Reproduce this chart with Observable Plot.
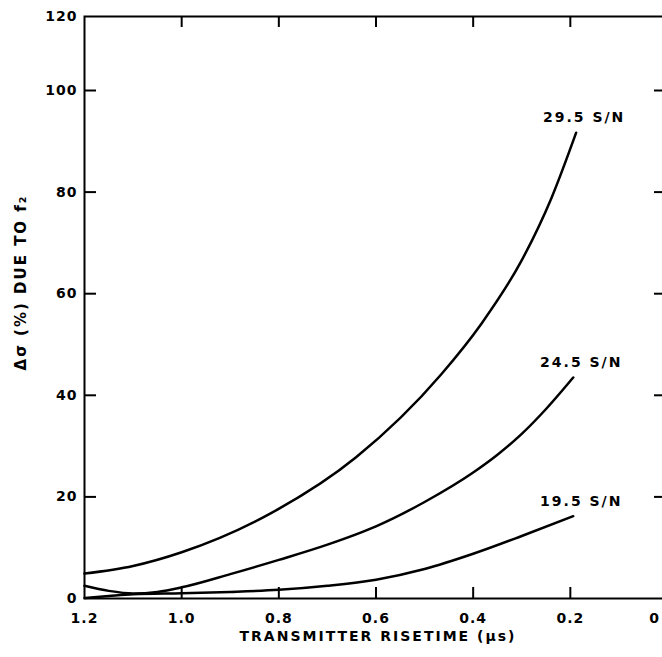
<!DOCTYPE html>
<html>
<head>
<meta charset="utf-8">
<script src="https://cdn.jsdelivr.net/npm/d3@7"></script>
<script src="https://cdn.jsdelivr.net/npm/@observablehq/plot@0.6"></script>
<style>
  html, body { margin: 0; padding: 0; background: #fff; overflow: hidden; }
  #chart svg { max-width: none !important; }
  #chart svg text { letter-spacing: 1px; }
  #chart svg text.wide, #chart svg g.wide text { letter-spacing: 2px; }
</style>
</head>
<body>
<div id="chart"></div>
<script>
// Series
const x295 = [1.2, 1.1, 1.0, 0.816, 0.641, 0.466, 0.383, 0.301, 0.239, 0.188];
const y295 = [4.9, 6.4, 9.1, 16.8, 27.8, 44.1, 54.1, 66.4, 78.8, 91.7];

const x245 = [1.2, 1.15, 1.1, 1.05, 1.0, 0.9, 0.8, 0.7, 0.6, 0.5, 0.4, 0.35, 0.3, 0.25, 0.194];
const y245 = [2.5, 1.5, 1.0, 1.3, 2.2, 4.8, 7.6, 10.6, 14.2, 19.0, 24.8, 28.3, 32.4, 37.3, 43.5];

const x195 = [1.2, 1.15, 1.1, 1.0, 0.9, 0.8, 0.7, 0.6, 0.5, 0.4, 0.3, 0.194];
const y195 = [0.1, 0.5, 0.85, 1.05, 1.3, 1.7, 2.5, 3.7, 5.8, 8.8, 12.3, 16.2];

const seriesNames = ["29.5 S/N", "24.5 S/N", "19.5 S/N"];

const xTickValues = [1.2, 1.0, 0.8, 0.6, 0.4, 0.2];
const xTickLabels = ["1.2", "1.0", "0.8", "0.6", "0.4", "0.2"];
const xEdgeTick = [0];
const xEdgeLabel = ["0"];
const xInnerTicks = [1.0, 0.8, 0.6, 0.4, 0.2];
const yTickValues = [0, 20, 40, 60, 80, 100, 120];
const yInnerTicks = [20, 40, 60, 80, 100];

const xTitle = "TRANSMITTER RISETIME (μs)";
const yTitle = "Δσ (%) DUE TO f₂";

// Build tidy table
const rows = [];
[[x295, y295], [x245, y245], [x195, y195]].forEach(([xs, ys], i) => {
  xs.forEach((x, j) => rows.push({series: seriesNames[i], x, y: ys[j]}));
});
const ends = seriesNames.map(s => rows.filter(r => r.series === s).slice(-1)[0]);

const W = 700, H = 657;
const mL = 84, mR = 33, mT = 16, mB = 59;
const plotW = W - mL - mR, plotH = H - mT - mB;

const chart = Plot.plot({
  width: W,
  height: H,
  marginLeft: mL,
  marginRight: mR,
  marginTop: mT,
  marginBottom: mB,
  style: {fontFamily: "DejaVu Sans, sans-serif", fontSize: "14px", background: "white", color: "black"},
  x: {type: "linear", domain: [1.2, 0], range: [mL, W - mR]},
  y: {type: "linear", domain: [0, 100, 120], range: [H - mB, 90, mT]},
  marks: [
    Plot.frame({stroke: "black", strokeWidth: 2}),
    // inward ticks
    Plot.tickY(yInnerTicks, {y: d => d, stroke: "black", strokeWidth: 2, insetRight: plotW - 12}),
    Plot.tickY(yInnerTicks, {y: d => d, stroke: "black", strokeWidth: 2, insetLeft: plotW - 13}),
    Plot.tickX(xInnerTicks, {x: d => d, stroke: "black", strokeWidth: 2, insetTop: plotH - 11}),
    Plot.tickX(xInnerTicks, {x: d => d, stroke: "black", strokeWidth: 2, insetBottom: plotH - 11}),
    // tick labels
    Plot.axisX({ticks: xTickValues, tickSize: 0, tickPadding: 15, label: null,
      tickFormat: d => xTickLabels[xTickValues.indexOf(d)], fontSize: 14, fontWeight: 600}),
    Plot.text(xEdgeTick, {x: d => d, text: (d, i) => xEdgeLabel[i], frameAnchor: "bottom", lineAnchor: "top",
      dy: 15, dx: -13, fontSize: 14, fontWeight: 600, fill: "black"}),
    Plot.axisY({ticks: yTickValues, tickSize: 0, tickPadding: 7, label: null,
      tickFormat: d => String(d), fontSize: 14, fontWeight: 600}),
    // curves
    Plot.line(rows, {x: "x", y: "y", z: "series", stroke: "black", strokeWidth: 2.5, curve: "monotone-x"}),
    // curve labels
    Plot.text(ends, {x: "x", y: "y", text: "series", dx: 8, dy: -15, fontSize: 14, fontWeight: 600,
      fill: "black", className: "wide"}),
    // axis titles
    Plot.text([xTitle], {frameAnchor: "bottom", textAnchor: "middle", dx: 2, dy: 42, fontSize: 14,
      fontWeight: 600, fill: "black", className: "wide"}),
    Plot.text([yTitle], {frameAnchor: "left", textAnchor: "middle", dx: -63, dy: -25, rotate: -90,
      fontSize: 15, fontWeight: 600, fill: "black", className: "wide"})
  ]
});
document.getElementById("chart").append(chart);
</script>
</body>
</html>
